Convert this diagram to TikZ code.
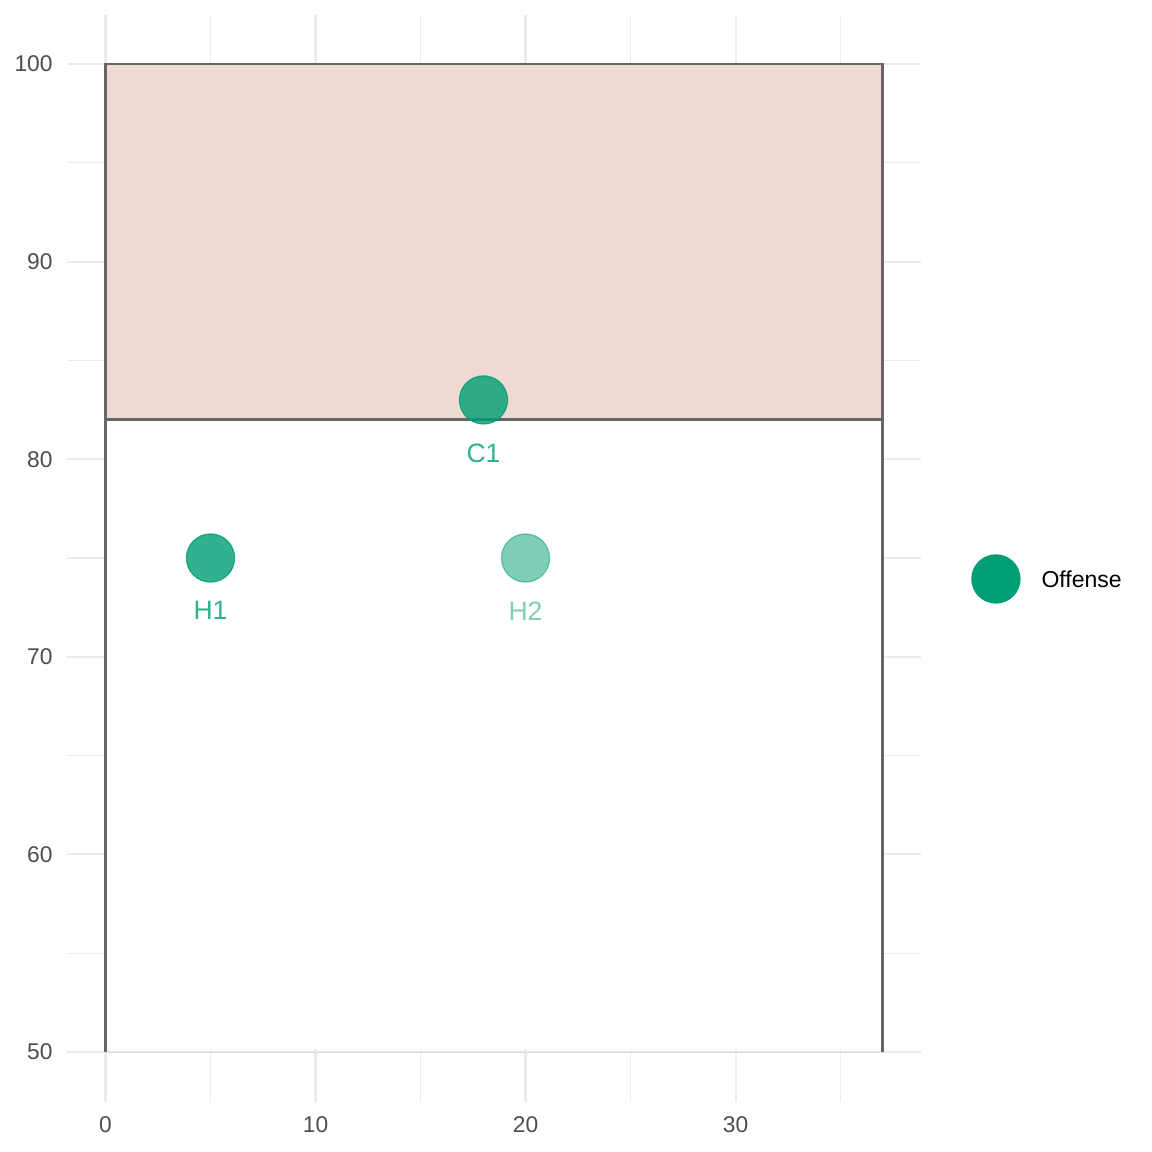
\documentclass[tikz,border=0pt]{standalone}
\usepackage{fontspec}
\setmainfont{Liberation Sans}
\usetikzlibrary{positioning}
\definecolor{GridClr}{RGB}{235,235,235}
\definecolor{TickClr}{RGB}{77,77,77}
\definecolor{LineClr}{RGB}{102,102,102}
\definecolor{ZoneClr}{RGB}{238,218,211}
\definecolor{OffClr}{RGB}{0,158,115}

\tikzset{
  major/.style={draw=GridClr,line width=0.8pt},
  minor/.style={draw=GridClr,line width=0.45pt},
  tick/.style={text=TickClr,font=\fontsize{9}{10}\selectfont,inner sep=0pt},
  player/.style={circle,minimum size=19pt,inner sep=0pt,outer sep=0pt,
    fill=OffClr,draw=OffClr,line width=0.5pt},
  plabel/.style={text=OffClr,font=\fontsize{10.5}{12}\selectfont,inner sep=0pt}
}

\begin{document}
\begin{tikzpicture}[x=0.29167cm,y=0.27444cm]
\useasboundingbox (-5.024,44.94) rectangle (49.83,103.24);

% panel grid
\foreach \gx in {5,15,25,35} \draw[minor] (\gx,47.47) -- (\gx,102.48);
\foreach \gy in {55,65,75,85,95} \draw[minor] (-1.83,\gy) -- (38.83,\gy);
\foreach \gx in {0,10,20,30} \draw[major] (\gx,47.47) -- (\gx,102.48);
\foreach \gy in {50,60,...,100} \draw[major] (-1.83,\gy) -- (38.83,\gy);

% axis labels
\foreach \gx in {0,10,20,30} \node[tick] (xl\gx) at (\gx,46.31) {\gx};
\foreach \gy in {50,60,...,100} \node[tick,anchor=east] (yl\gy) at (-2.5,\gy) {\gy};

% field
\fill[white] (0,50.15) rectangle (37,82);
\draw[GridClr!85!gray,line width=0.35pt] (0,50) -- (37,50);
\fill[ZoneClr] (0,82) rectangle (37,100);
\draw[LineClr,line width=1pt] (0,50) -- (0,100) -- (37,100) -- (37,50);
\draw[LineClr,line width=1pt] (0,82) -- (37,82);

% players
\node[player,fill opacity=0.8,draw opacity=0.8] (c1) at (18,83) {};
\node[player,fill opacity=0.8,draw opacity=0.8] (h1) at (5,75) {};
\node[player,fill opacity=0.5,draw opacity=0.5] (h2) at (20,75) {};

\node[plabel,text opacity=0.8,below=7.5pt of c1] (c1lbl) {C1};
\node[plabel,text opacity=0.8,below=7.5pt of h1] (h1lbl) {H1};
\node[plabel,text opacity=0.5,below=7.5pt of h2] (h2lbl) {H2};

% legend
\node[player,draw=none,minimum size=19.5pt] (key) at (42.40,73.94) {};
\node[anchor=west,inner sep=0pt,font=\fontsize{9.1}{11}\selectfont] (keylbl) at (44.55,73.94) {Offense};

\end{tikzpicture}
\end{document}
